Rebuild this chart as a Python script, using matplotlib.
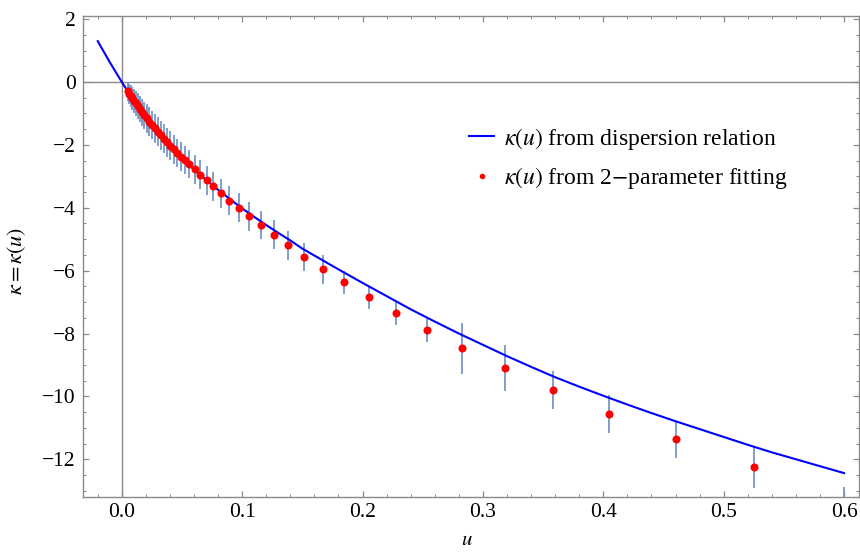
import matplotlib
matplotlib.use("Agg")
import matplotlib.pyplot as plt
from matplotlib.ticker import MultipleLocator, FormatStrFormatter
from matplotlib.lines import Line2D

plt.rcParams['font.family'] = ['Liberation Serif', 'DejaVu Serif']
plt.rcParams['mathtext.fontset'] = 'stix'

# kappa(u) from the dispersion relation
u_curve = [-0.02, -0.01, 0.00, 0.01, 0.02, 0.03, 0.04, 0.05, 0.06, 0.07,
           0.08, 0.09, 0.10, 0.11, 0.12, 0.13, 0.14, 0.15, 0.16, 0.18,
           0.20, 0.22, 0.24, 0.26, 0.28, 0.30, 0.32, 0.34, 0.36, 0.38,
           0.40, 0.42, 0.44, 0.46, 0.48, 0.50, 0.52, 0.54, 0.56, 0.58, 0.60]
kappa_curve = [1.30, 0.63, 0.00, -0.60, -1.14, -1.63, -2.05, -2.43, -2.78, -3.11,
               -3.43, -3.73, -4.02, -4.29, -4.55, -4.80, -5.04, -5.30, -5.52, -5.96,
               -6.39, -6.81, -7.23, -7.62, -8.00, -8.36, -8.72, -9.06, -9.39, -9.69,
               -9.98, -10.26, -10.53, -10.79, -11.04, -11.29, -11.54, -11.78, -12.00, -12.22, -12.44]

# kappa(u) from the 2-parameter fitting, with error bars
u_fit = [0.0052, 0.0063, 0.0075, 0.0088, 0.0102, 0.0117, 0.0133, 0.0150, 0.0168, 0.0187,
         0.0207, 0.0228, 0.0250, 0.0273, 0.0297, 0.0322, 0.0348, 0.0375, 0.0403, 0.0432,
         0.0461, 0.0490, 0.0522, 0.0560, 0.0605, 0.0652, 0.0704, 0.0760, 0.0820, 0.0890,
         0.0970, 0.1060, 0.1154, 0.1262, 0.1380, 0.1516, 0.1670, 0.1848, 0.2050, 0.2276,
         0.2535, 0.2830, 0.3180, 0.3580, 0.4050, 0.4600, 0.5250, 0.6000]
kappa_fit = [-0.30, -0.37, -0.44, -0.52, -0.60, -0.68, -0.77, -0.86, -0.96, -1.06,
             -1.16, -1.26, -1.37, -1.47, -1.58, -1.69, -1.80, -1.91, -2.02, -2.14,
             -2.25, -2.37, -2.47, -2.61, -2.78, -2.95, -3.13, -3.32, -3.54, -3.77,
             -4.00, -4.27, -4.55, -4.86, -5.20, -5.57, -5.96, -6.37, -6.85, -7.36,
             -7.90, -8.47, -9.10, -9.80, -10.56, -11.37, -12.26, -13.37]
kappa_err = [0.30, 0.32, 0.34, 0.36, 0.38, 0.40, 0.41, 0.42, 0.43, 0.44,
             0.45, 0.45, 0.45, 0.46, 0.46, 0.46, 0.46, 0.46, 0.46, 0.46,
             0.45, 0.45, 0.45, 0.45, 0.45, 0.46, 0.46, 0.46, 0.46, 0.46,
             0.46, 0.46, 0.45, 0.46, 0.46, 0.45, 0.45, 0.37, 0.37, 0.36,
             0.38, 0.81, 0.72, 0.60, 0.60, 0.59, 0.64, 0.50]

frame_gray = '#8a8a8a'
bar_blue = '#6b8dc6'

fig = plt.figure(figsize=(8.6, 5.54), dpi=100)
ax = fig.add_axes([0.0963, 0.1029, 0.9025, 0.8682])

# axes through the origin, Mathematica style
ax.axhline(0, color=frame_gray, lw=1.0, zorder=1)
ax.axvline(0, color=frame_gray, lw=1.0, zorder=1)

ax.errorbar(u_fit, kappa_fit, yerr=kappa_err, fmt='none', ecolor=bar_blue,
            elinewidth=1.2, capsize=0, zorder=2)
ax.plot(u_curve, kappa_curve, color='#0000ff', lw=1.5, zorder=3)
ax.plot(u_fit, kappa_fit, 'o', color='#ff0000', ms=5.8, mec='none', zorder=4)

ax.set_xlim(-0.0324, 0.6124)
ax.set_ylim(-13.2, 2.1)

ax.xaxis.set_major_locator(MultipleLocator(0.1))
ax.xaxis.set_minor_locator(MultipleLocator(0.02))
ax.yaxis.set_major_locator(MultipleLocator(2))
ax.yaxis.set_minor_locator(MultipleLocator(0.5))
ax.xaxis.set_major_formatter(FormatStrFormatter('%.1f'))

for s in ax.spines.values():
    s.set_color(frame_gray)
    s.set_linewidth(1.0)

ax.tick_params(which='both', direction='in', top=True, right=True,
               color=frame_gray, labelsize=15.5, labelcolor='black')
ax.tick_params(which='major', length=4.5, width=0.9)
ax.tick_params(which='minor', length=2.5, width=0.7)
ax.tick_params(axis='x', which='major', pad=4.5)
ax.tick_params(axis='y', which='major', pad=5)

ax.set_ylabel(r'$\kappa=\kappa(u)$', fontsize=16)
ax.yaxis.set_label_coords(-0.071, 0.49)
ax.set_xlabel(r'$u$', fontsize=15)
ax.xaxis.set_label_coords(0.495, -0.071)

handles = [Line2D([], [], color='#0000ff', lw=1.5),
           Line2D([], [], ls='none', marker='o', color='#ff0000', ms=4, mec='none')]
labels = [r'$\kappa(u)$ from dispersion relation',
          r'$\kappa(u)$ from 2$-$parameter fitting']
ax.legend(handles, labels, loc='upper left', bbox_to_anchor=(0.498, 0.772),
          frameon=False, fontsize=17, handlelength=1.05, handletextpad=0.42,
          labelspacing=0.58, borderpad=0, borderaxespad=0)

fig.savefig('out.png', dpi=100)
